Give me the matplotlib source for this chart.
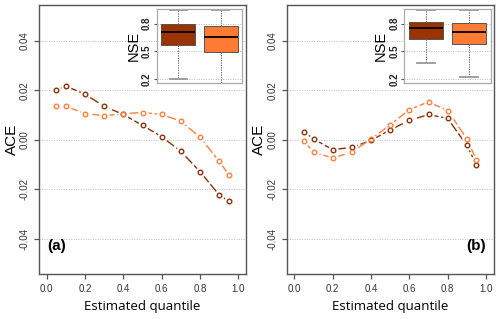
import matplotlib.pyplot as plt
import numpy as np

plt.rcParams['font.family'] = ['Liberation Sans', 'DejaVu Sans']

# %% data
quantile = [0.05, 0.1, 0.2, 0.3, 0.4, 0.5, 0.6, 0.7, 0.8, 0.9, 0.95]

ace_a_dark = [0.0200, 0.0217, 0.0184, 0.0135, 0.0102, 0.0058, 0.0012, -0.0047, -0.0129, -0.0223, -0.0249]
ace_a_orange = [0.0135, 0.0135, 0.0106, 0.0097, 0.0105, 0.0110, 0.0102, 0.0075, 0.0010, -0.0087, -0.0141]

ace_b_dark = [0.0033, 0.0003, -0.0040, -0.0031, -0.0003, 0.0040, 0.0078, 0.0102, 0.0086, -0.0023, -0.0102]
ace_b_orange = [-0.0005, -0.0050, -0.0074, -0.0050, 0.0003, 0.0060, 0.0122, 0.0153, 0.0118, 0.0003, -0.0082]

# NSE box stats: [low whisker, q1, median, q3, high whisker]
nse_a_dark = [0.200, 0.572, 0.710, 0.800, 0.945]
nse_a_orange = [0.100, 0.490, 0.655, 0.775, 0.945]
nse_b_dark = [0.375, 0.633, 0.750, 0.814, 0.945]
nse_b_orange = [0.225, 0.583, 0.710, 0.806, 0.945]

panel_labels = ['(a)', '(b)']

dark = '#8f2f05'
orange = '#ff7f3a'
dark_fill = '#9a3300'
orange_fill = '#ff7b33'
axcol = '#555555'

# %%
fig = plt.figure(figsize=(5, 3.19), dpi=100)
ax_pos = [[0.078, 0.1395, 0.414, 0.845], [0.5734, 0.1395, 0.414, 0.845]]
in_pos = [[0.3134, 0.7407, 0.1712, 0.230], [0.8086, 0.7407, 0.1728, 0.230]]
series = [(ace_a_dark, ace_a_orange), (ace_b_dark, ace_b_orange)]
boxes = [(nse_a_dark, nse_a_orange), (nse_b_dark, nse_b_orange)]


def stats(v, label):
    return dict(whislo=v[0], q1=v[1], med=v[2], q3=v[3], whishi=v[4], label=label)


for i in range(2):
    ax = fig.add_axes(ax_pos[i])
    for yy in [-0.04, -0.02, 0.0, 0.02, 0.04]:
        ax.axhline(yy, color='#bbbbbb', lw=0.7, ls=(0, (1, 1.5)), zorder=0)
    for y, c in zip(series[i], [dark, orange]):
        ax.plot(quantile, y, color=c, lw=1.0, dashes=(7, 2), zorder=2)
        ax.plot(quantile, y, 'o', ms=6.5, color='white', zorder=3)
        ax.plot(quantile, y, 'o', ms=3.3, mfc='none', mec=c, mew=1.0, zorder=4)
    ax.set_xlim(-0.04, 1.04)
    ax.set_ylim(-0.0545, 0.0545)
    ax.set_xticks(np.arange(0, 1.01, 0.2))
    ax.set_xticklabels(['0.0', '0.2', '0.4', '0.6', '0.8', '1.0'])
    ax.set_yticks([-0.04, -0.02, 0.0, 0.02, 0.04])
    ax.set_yticklabels(['-0.04', '-0.02', '0.00', '0.02', '0.04'], rotation=90, va='center')
    ax.tick_params(colors=axcol, labelcolor='#333333', labelsize=7, length=3.5, width=0.9, pad=3)
    for s in ax.spines.values():
        s.set_color(axcol)
        s.set_linewidth(1.0)
    ax.set_xlabel('Estimated quantile', fontsize=9.5, family=['Open Sans', 'DejaVu Sans'], labelpad=5)
    ax.set_ylabel('ACE', fontsize=11, labelpad=1)
    if i == 0:
        ax.text(0.04, 0.105, panel_labels[i], transform=ax.transAxes, fontsize=11, fontweight='bold', va='center')
    else:
        ax.text(0.96, 0.105, panel_labels[i], transform=ax.transAxes, fontsize=11, fontweight='bold', va='center', ha='right')

    ins = fig.add_axes(in_pos[i])
    for yy in [0.2, 0.5, 0.8]:
        ins.axhline(yy, color='#bbbbbb', lw=0.7, ls=(0, (1, 1.5)), zorder=0)
    bp = ins.bxp([stats(boxes[i][0], ''), stats(boxes[i][1], '')], positions=[1, 2], widths=0.78,
                 patch_artist=True, showfliers=False,
                 boxprops=dict(edgecolor='#555555', linewidth=0.7),
                 medianprops=dict(color='black', linewidth=1.3),
                 whiskerprops=dict(color='#777777', linewidth=0.7, ls=(0, (1.5, 1))),
                 capprops=dict(color='#999999', linewidth=1.3), capwidths=0.4)
    for patch, c in zip(bp['boxes'], [dark_fill, orange_fill]):
        patch.set_facecolor(c)
    ins.set_xlim(0.5, 2.5)
    ins.set_ylim(0.16, 0.955)
    ins.set_xticks([])
    ins.set_yticks([0.2, 0.5, 0.8])
    ins.set_yticklabels(['0.2', '0.5', '0.8'], rotation=90, va='center', fontweight='bold')
    ins.tick_params(axis='y', colors=axcol, labelcolor='#222222', labelsize=7, length=2, pad=1.5)
    for s in ins.spines.values():
        s.set_color('#aaaaaa')
        s.set_linewidth(0.9)
    ins.set_ylabel('NSE', fontsize=10.5, labelpad=1)

plt.savefig('out.png', dpi=100)
